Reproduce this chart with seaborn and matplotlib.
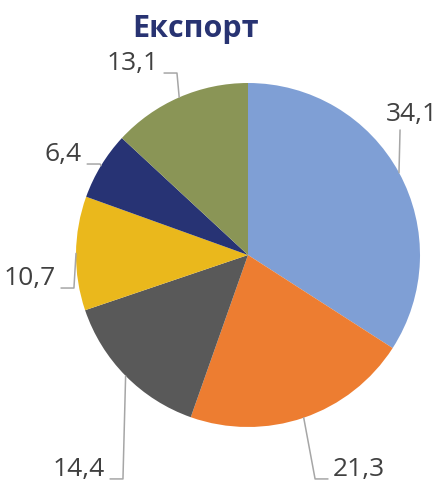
import numpy as np
import matplotlib
matplotlib.use("Agg")
import matplotlib.pyplot as plt
import seaborn as sns

# data
values = [34.1, 21.3, 14.4, 10.7, 6.4, 13.1]
labels = ["34,1", "21,3", "14,4", "10,7", "6,4", "13,1"]
title = "Експорт"

colors = ["#7F9FD5", "#ED7D31", "#595959", "#EAB81C", "#273374", "#8A9556"]

# leader elbow points (pie radius = 1) and which side the label sits on
elbows = [(0.884, 0.727), (0.390, -1.302), (-0.727, -1.302),
          (-1.012, -0.192), (-0.860, 0.529), (-0.413, 1.058)]
sides = [0, 1, -1, -1, -1, -1]

sns.set_theme(style="white")
plt.rcParams["font.family"] = ["Open Sans", "DejaVu Sans"]

W, H = 442, 484
fig = plt.figure(figsize=(W / 100, H / 100), dpi=100)
cx, cy, R = 248, 255, 172
ax = fig.add_axes([(cx - R) / W, (H - cy - R) / H, 2 * R / W, 2 * R / H])

wedges, _ = ax.pie(values, colors=colors, startangle=90, counterclock=False,
                   radius=1, wedgeprops=dict(linewidth=0))
ax.set_xlim(-1, 1)
ax.set_ylim(-1, 1)
ax.set_aspect("equal")
ax.axis("off")

line_col = "#A6A6A6"
text_col = "#404040"
for w, lab, (ex, ey), side in zip(wedges, labels, elbows, sides):
    mid = np.deg2rad((w.theta1 + w.theta2) / 2)
    px, py = np.cos(mid), np.sin(mid)
    if side == 0:
        ax.plot([px, ex], [py, ey], color=line_col, lw=1.1, clip_on=False)
        ax.text(ex + 0.07, ey + 0.02, lab, ha="center", va="bottom",
                fontsize=19, color=text_col)
    else:
        tx = ex + side * 0.075
        ax.plot([px, ex, tx], [py, ey, ey], color=line_col, lw=1.1,
                clip_on=False)
        ax.text(tx + side * 0.03, ey - 0.02, lab,
                ha="left" if side > 0 else "right", va="bottom",
                fontsize=19, color=text_col)

fig.text(196 / W, 1 - 29 / H, title, ha="center", va="center",
         fontsize=22, fontweight="bold", color="#283372")

fig.savefig("out.png", dpi=100)
